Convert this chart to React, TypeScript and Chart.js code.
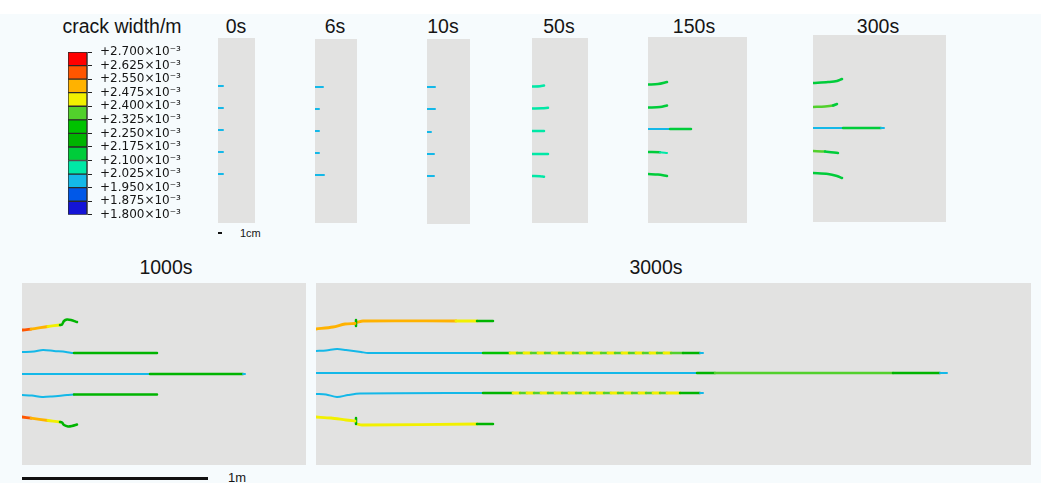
import React, { useEffect, useRef } from "react";
import { Chart, registerables } from "chart.js";

Chart.register(...registerables);

// Crack geometry: [x, y, crack width in 10^-3 m]; x/y in panel grid units (y measured downward)
type Pt = [number, number, number];

// Contour legend boundaries (10^-3 m) and band colours, from the lowest band upward
const legendTicks = [1.8, 1.875, 1.95, 2.025, 2.1, 2.175, 2.25, 2.325, 2.4, 2.475, 2.55, 2.625, 2.7];
const legendColors = [
  "#1414d6", "#0058e8", "#14b8e8", "#00e8a6", "#00cc3a", "#00b400",
  "#00c200", "#52d02c", "#f2f000", "#ffb200", "#ff5600", "#ff0000",
];

const stageTitles = ["0s", "6s", "10s", "50s", "150s", "300s", "1000s", "3000s"];

const cracks0s: Pt[][] = [
  [[0, 48, 1.99], [5, 48, 1.99]],
  [[0, 70, 1.99], [5, 70, 1.99]],
  [[0, 92, 1.99], [5, 92, 1.99]],
  [[0, 114, 1.99], [5, 114, 1.99]],
  [[0, 136, 1.99], [5, 136, 1.99]],
];

const cracks6s: Pt[][] = [
  [[0, 48, 1.99], [8, 48, 1.99]],
  [[0, 70, 1.99], [4, 70, 1.99]],
  [[0, 92, 1.99], [4, 92, 1.99]],
  [[0, 114, 1.99], [4, 114, 1.99]],
  [[0, 136, 1.99], [9, 136, 1.99]],
];

const cracks10s: Pt[][] = [
  [[0, 48, 1.99], [8, 48, 1.99]],
  [[0, 70, 1.99], [8, 70, 1.99]],
  [[0, 93, 1.99], [4, 93, 1.99]],
  [[0, 115, 1.99], [7, 115, 1.99]],
  [[0, 137, 1.99], [7, 137, 1.99]],
];

const cracks50s: Pt[][] = [
  [[0, 48.5, 2.06], [8, 48.2, 2.06], [12, 47.5, 2.06]],
  [[0, 70.5, 2.06], [10, 70.3, 2.06], [16, 69.8, 2.06]],
  [[0, 93, 2.06], [12, 93, 2.06]],
  [[0, 116, 2.06], [16, 116, 2.06]],
  [[0, 138, 2.06], [8, 138.2, 2.06], [12, 138.8, 2.06]],
];

const cracks150s: Pt[][] = [
  [[0, 47.5, 2.12], [10, 47, 2.12], [19, 45, 2.12]],
  [[0, 70.5, 2.12], [12, 70, 2.12], [19, 68.5, 2.12]],
  [[0, 92, 1.99], [22, 92, 2.12], [43, 92, 2.12]],
  [[0, 115, 2.12], [12, 115.3, 2.04], [19, 116, 2.04]],
  [[0, 137, 2.12], [10, 137.6, 2.12], [19, 139, 2.12]],
];

const cracks300s: Pt[][] = [
  [[0, 48, 2.14], [15, 47, 2.14], [24, 46, 2.14], [29, 44, 2.14]],
  [[0, 72, 2.35], [12, 71.5, 2.35], [20, 70.5, 2.14], [24, 69, 2.14]],
  [[0, 93, 1.99], [30, 93, 2.14], [68, 93, 2.0], [71, 93, 2.0]],
  [[0, 116, 2.35], [12, 116.5, 2.14], [25, 118, 2.14]],
  [[0, 138, 2.14], [15, 139, 2.14], [24, 141, 2.14], [29, 143, 2.14]],
];

const cracks1000s: Pt[][] = [
  [[0, 47, 2.56], [9, 46.2, 2.5], [26, 43.5, 2.43], [38, 42, 2.2], [40, 41.5, 2.2], [42, 38, 2.2], [45, 36.5, 2.2], [49, 37, 2.2], [55, 39, 2.2]],
  [[0, 69, 1.99], [12, 68.5, 1.99], [21, 67, 1.99], [32, 68, 1.99], [44, 69, 1.99], [52, 70, 2.22], [135, 70, 2.22]],
  [[0, 91, 1.99], [128, 91, 2.22], [221, 91, 2.0], [223, 91, 2.0]],
  [[0, 112, 1.99], [10, 112.5, 1.99], [20, 114, 1.99], [30, 113.5, 1.99], [45, 112, 1.99], [52, 111.5, 2.22], [135, 111.5, 2.22]],
  [[0, 134, 2.56], [9, 135.2, 2.5], [26, 137.5, 2.43], [38, 139, 2.2], [40, 139.5, 2.2], [42, 142, 2.2], [46, 143.5, 2.2], [50, 143, 2.2], [55, 141.5, 2.2]],
];

const cracks3000s: Pt[][] = [
  [[0, 46, 2.5], [17, 44, 2.5], [29, 41, 2.5], [39, 40.5, 2.5]],
  [[40, 37, 2.2], [40, 43, 2.2]],
  [[41, 39.5, 2.5], [47, 38, 2.5], [140, 38, 2.45], [161, 38, 2.2], [177, 38, 2.2]],
  [[0, 68, 1.99], [10, 67.5, 1.99], [21, 66, 1.99], [30, 67, 1.99], [45, 69, 1.99], [52, 70, 1.99], [167, 70, 2.26],
   [194, 70, 2.42], [201, 70, 2.36], [208, 70, 2.42], [215, 70, 2.36], [222, 70, 2.42], [229, 70, 2.36], [236, 70, 2.42],
   [243, 70, 2.36], [250, 70, 2.42], [257, 70, 2.36], [264, 70, 2.42], [271, 70, 2.36], [278, 70, 2.42], [285, 70, 2.36],
   [292, 70, 2.42], [299, 70, 2.36], [306, 70, 2.42], [313, 70, 2.36], [320, 70, 2.42], [327, 70, 2.36], [334, 70, 2.42],
   [341, 70, 2.36], [348, 70, 2.42], [355, 70, 2.36], [367, 70, 2.24], [384, 70, 2.0], [387, 70, 2.0]],
  [[0, 90, 1.99], [381, 90, 2.24], [399, 90, 2.36], [577, 90, 2.24], [624, 90, 2.0], [631, 90, 2.0]],
  [[0, 111, 1.99], [10, 111.5, 1.99], [21, 114, 1.99], [32, 112, 1.99], [44, 110.5, 1.99], [167, 110, 2.24],
   [197, 110, 2.43], [204, 110, 2.36], [211, 110, 2.43], [218, 110, 2.36], [225, 110, 2.43], [232, 110, 2.36], [239, 110, 2.43],
   [246, 110, 2.36], [253, 110, 2.43], [260, 110, 2.36], [267, 110, 2.43], [274, 110, 2.36], [281, 110, 2.43], [288, 110, 2.36],
   [295, 110, 2.43], [302, 110, 2.36], [309, 110, 2.43], [316, 110, 2.36], [323, 110, 2.43], [330, 110, 2.36], [337, 110, 2.43],
   [344, 110, 2.36], [351, 110, 2.43], [364, 110, 2.24], [384, 110, 2.0], [387, 110, 2.0]],
  [[0, 134, 2.44], [15, 135, 2.44], [30, 137, 2.44], [39, 138, 2.44]],
  [[40, 135, 2.2], [40, 141, 2.2]],
  [[41, 141, 2.44], [46, 142, 2.44], [161, 141, 2.2], [177, 141, 2.2]],
];

const stageCracks: Pt[][][] = [cracks0s, cracks6s, cracks10s, cracks50s, cracks150s, cracks300s, cracks1000s, cracks3000s];

// Page layout of each specimen panel (px) and where its caption sits
const panelBoxes = [
  { left: 218, top: 38, width: 37, height: 185, capX: 236, capY: 26 },
  { left: 315, top: 39, width: 42, height: 184, capX: 335, capY: 26 },
  { left: 427, top: 39, width: 43, height: 185, capX: 443, capY: 26 },
  { left: 532, top: 38, width: 56, height: 185, capX: 559, capY: 26 },
  { left: 648, top: 37, width: 99, height: 186, capX: 694, capY: 26 },
  { left: 813, top: 35, width: 133, height: 187, capX: 878, capY: 26 },
  { left: 22, top: 283, width: 284, height: 182, capX: 166, capY: 267 },
  { left: 316, top: 283, width: 715, height: 182, capX: 656, capY: 267 },
];

const FONT = '"Liberation Sans", Arial, sans-serif';

function bandColor(w: number): string {
  for (let i = 0; i < legendColors.length; i++) {
    if (w < legendTicks[i + 1]) return legendColors[i];
  }
  return legendColors[legendColors.length - 1];
}

function bandWidth(w: number): number {
  if (w < 2.05) return 2;
  if (w >= 2.4) return 2.8;
  return 2.5;
}

const panelBackground = {
  id: "panelBackground",
  beforeDraw(chart: any) {
    const { ctx, chartArea: a } = chart;
    ctx.save();
    ctx.fillStyle = "#e2e2e1";
    ctx.fillRect(a.left, a.top, a.right - a.left, a.bottom - a.top);
    ctx.restore();
  },
};

function CrackPanel({ box, cracks }: { box: any; cracks: Pt[][] }) {
  const ref = useRef<HTMLCanvasElement>(null);
  useEffect(() => {
    const datasets = cracks.map((crack) => ({
      data: crack.map(([x, y, w]) => ({ x, y, w })),
      showLine: true,
      pointRadius: 0,
      tension: 0.3,
      borderCapStyle: "round",
      borderColor: bandColor(crack[0][2]),
      borderWidth: bandWidth(crack[0][2]),
      segment: {
        borderColor: (ctx: any) => bandColor(crack[ctx.p0DataIndex][2]),
        borderWidth: (ctx: any) => bandWidth(crack[ctx.p0DataIndex][2]),
      },
    }));
    const chart = new Chart(ref.current as HTMLCanvasElement, {
      type: "scatter",
      data: { datasets } as any,
      options: {
        animation: false,
        responsive: false,
        devicePixelRatio: 1,
        events: [],
        layout: { padding: 0 },
        plugins: { legend: { display: false }, tooltip: { enabled: false } },
        scales: {
          x: { type: "linear", min: 0, max: box.width, display: false },
          y: { type: "linear", min: 0, max: box.height, reverse: true, display: false },
        },
      } as any,
      plugins: [panelBackground],
    });
    return () => chart.destroy();
  }, []);
  return (
    <canvas
      ref={ref}
      width={box.width}
      height={box.height}
      style={{ position: "absolute", left: box.left, top: box.top, width: box.width, height: box.height }}
    />
  );
}

function ColorLegend() {
  const ref = useRef<HTMLCanvasElement>(null);
  useEffect(() => {
    const datasets = legendColors.map((c, i) => ({
      data: [[legendTicks[i], legendTicks[i + 1]]],
      backgroundColor: c,
      borderColor: "#2a2a2a",
      borderWidth: 1,
      borderSkipped: false,
      barPercentage: 1,
      categoryPercentage: 1,
    }));
    const chart = new Chart(ref.current as HTMLCanvasElement, {
      type: "bar",
      data: { labels: ["crack width"], datasets } as any,
      options: {
        animation: false,
        responsive: false,
        devicePixelRatio: 1,
        events: [],
        layout: { padding: { left: 8, top: 52, bottom: 14, right: 0 } },
        plugins: { legend: { display: false }, tooltip: { enabled: false } },
        scales: {
          x: { display: false, stacked: true },
          y: {
            position: "right",
            min: legendTicks[0],
            max: legendTicks[legendTicks.length - 1],
            afterBuildTicks: (s: any) => {
              s.ticks = legendTicks.map((v) => ({ value: v }));
            },
            afterFit: (s: any) => {
              s.width = 113;
            },
            ticks: {
              autoSkip: false,
              padding: 8,
              color: "#151515",
              font: { family: '"DejaVu Sans", Verdana, sans-serif', size: 12 },
              callback: (v: any) => "+" + Number(v).toFixed(3) + "×10⁻³",
            },
            grid: { drawOnChartArea: false, drawTicks: true, tickLength: 5, color: "#222", lineWidth: 1 },
            border: { display: true, color: "#666" },
          },
        },
      } as any,
    });
    return () => chart.destroy();
  }, []);
  return (
    <canvas ref={ref} width={140} height={230} style={{ position: "absolute", left: 60, top: 0, width: 140, height: 230 }} />
  );
}

function Caption({ text, cx, cy, size }: { text: string; cx: number; cy: number; size: number }) {
  return (
    <div
      style={{
        position: "absolute",
        left: cx,
        top: cy - size * 0.56,
        transform: "translateX(-50%)",
        fontFamily: FONT,
        fontSize: size,
        lineHeight: `${Math.round(size * 1.12)}px`,
        whiteSpace: "nowrap",
        color: "#151515",
      }}
    >
      {text}
    </div>
  );
}

export default function App() {
  return (
    <div
      style={{
        position: "fixed",
        left: 0,
        top: 0,
        width: 1041,
        height: 483,
        overflow: "hidden",
        background: "linear-gradient(#ffffff 0px, #ffffff 14px, #f6fbfd 14px, #f6fbfd 483px)",
      }}
    >
      <Caption text="crack width/m" cx={122} cy={26} size={19.5} />
      <ColorLegend />
      {panelBoxes.map((box, i) => (
        <React.Fragment key={stageTitles[i]}>
          <Caption text={stageTitles[i]} cx={box.capX} cy={box.capY} size={19.5} />
          <CrackPanel box={box} cracks={stageCracks[i]} />
        </React.Fragment>
      ))}
      {/* 1 cm scale bar under the first specimen */}
      <div style={{ position: "absolute", left: 218, top: 232, width: 4, height: 2, background: "#111" }} />
      <div style={{ position: "absolute", left: 240, top: 226, fontFamily: FONT, fontSize: 11, lineHeight: "14px", color: "#151515" }}>1cm</div>
      {/* 1 m scale bar under the 1000s panel */}
      <div style={{ position: "absolute", left: 22, top: 477, width: 186, height: 3, background: "#111" }} />
      <div style={{ position: "absolute", left: 228, top: 470, fontFamily: FONT, fontSize: 13, lineHeight: "16px", color: "#151515" }}>1m</div>
    </div>
  );
}
